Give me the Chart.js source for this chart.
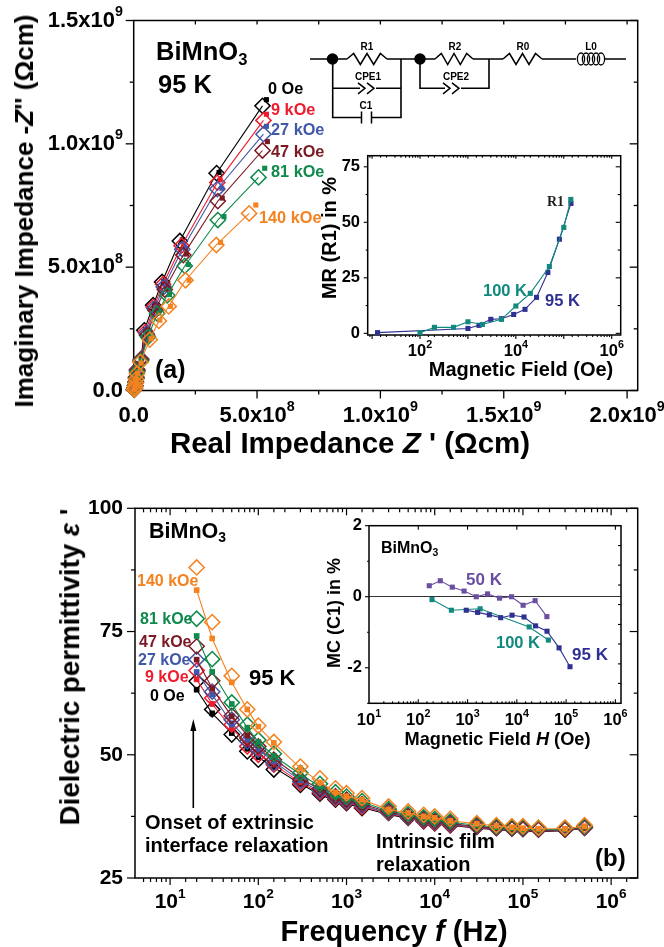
<!DOCTYPE html>
<html>
<head>
<meta charset="utf-8">
<script src="https://cdn.jsdelivr.net/npm/chart.js@4"></script>
<style>
html,body{margin:0;padding:0;background:#fff;width:664px;height:947px;overflow:hidden}
canvas{position:absolute}
.t{position:absolute;font-family:"Liberation Sans",Arial,sans-serif;font-weight:bold;white-space:nowrap;line-height:1;transform:translateY(-50%);color:#000}
.r{transform:translate(-50%,-50%) rotate(-90deg)}
.c{transform:translate(-50%,-50%)}
.sub{font-size:.65em;position:relative;top:.28em}
svg{position:absolute;left:0;top:0}
</style>
</head>
<body>
<script>
// ---------- Panel (a): Cole-Cole, values in units of 1e8 Ohm cm ----------
const fieldNames = ['0 Oe','9 kOe','27 kOe','47 kOe','81 kOe','140 kOe'];
const fieldColors = ['#000000','#ee1c2e','#4058a8','#7b1a24','#0f8a4c','#f58220'];
const zRe0  = [5.22,3.36,1.87,1.15,.79,.43,.30,.14,.10,.08,.06,.04,.02];
const zIm0  = [11.54,8.81,6.06,4.40,3.46,2.44,1.28,.85,.55,.35,.20,.10,.04];
const zRe9  = [5.26,3.39,1.94,1.19,.81,.48,.30,.14,.10,.08,.06,.04,.02];
const zIm9  = [10.95,8.43,5.87,4.31,3.39,2.37,1.26,.83,.54,.34,.20,.10,.04];
const zRe27 = [5.26,3.39,1.97,1.22,.84,.52,.29,.14,.10,.08,.06,.04,.02];
const zIm27 = [10.39,8.17,5.73,4.20,3.32,2.31,1.24,.81,.52,.33,.19,.10,.04];
const zRe47 = [5.22,3.41,2.01,1.26,.88,.54,.29,.14,.10,.08,.06,.04,.02];
const zIm47 = [9.73,7.68,5.49,4.09,3.25,2.24,1.22,.79,.51,.33,.19,.09,.04];
const zRe81 = [5.06,3.41,2.07,1.36,.95,.58,.28,.14,.10,.08,.06,.04,.02];
const zIm81 = [8.64,6.91,5.05,3.86,3.12,2.17,1.19,.75,.49,.31,.18,.09,.04];
const zRe140= [4.68,3.35,2.10,1.42,1.02,.65,.27,.14,.10,.08,.06,.04,.02];
const zIm140= [7.18,5.90,4.47,3.41,2.82,2.06,1.15,.68,.45,.30,.17,.09,.04];
const fitRe0  = [5.38,3.46,1.97,1.22,.84,.48,.32,.16,.12,.09,.07,.04,.02];
const fitIm0  = [11.79,8.84,6.10,4.43,3.50,2.47,1.30,.87,.56,.36,.21,.11,.05];
const fitRe9  = [5.38,3.50,2.03,1.26,.88,.52,.32,.16,.12,.09,.07,.04,.02];
const fitIm9  = [11.20,8.54,5.90,4.34,3.42,2.40,1.28,.85,.55,.35,.20,.10,.05];
const fitRe27 = [5.38,3.57,2.10,1.29,.91,.54,.31,.16,.12,.09,.07,.04,.02];
const fitIm27 = [10.71,8.20,5.76,4.23,3.35,2.33,1.26,.82,.53,.34,.20,.10,.05];
const fitRe47 = [5.42,3.59,2.14,1.33,.95,.57,.31,.16,.12,.09,.07,.04,.02];
const fitIm47 = [10.09,7.80,5.53,4.11,3.28,2.28,1.24,.80,.52,.33,.19,.10,.04];
const fitRe81 = [5.31,3.66,2.21,1.45,1.02,.64,.30,.16,.12,.09,.06,.04,.02];
const fitIm81 = [9.01,7.05,5.11,3.89,3.14,2.20,1.21,.77,.50,.32,.18,.09,.04];
const fitRe140= [4.95,3.52,2.24,1.49,1.06,.71,.30,.16,.12,.09,.06,.04,.02];
const fitIm140= [7.52,6.00,4.47,3.41,2.85,2.10,1.11,.70,.46,.30,.17,.09,.04];
const impedanceTicks = {0:'0.0',5:'5.0x10⁸',10:'1.0x10⁹',15:'1.5x10⁹',20:'2.0x10⁹'};

// ---------- Panel (a) inset: MR(R1) ----------
const mr95H = [13,1000,1700,3000,5000,9000,15500,27000,46500,81000,141000];
const mr95  = [0.3,2.2,3.6,6.3,6.6,8.5,10.8,16.2,27.4,42.4,58.5];
const mr100H= [100,200,500,1000,2000,5000,10000,20000,50000,100000,140000];
const mr100 = [0.3,2.7,2.7,5.2,4.0,6.3,12.3,18.0,30.1,47.7,60.3];
const mrTicks = [0,25,50,75];

// ---------- Panel (b): permittivity vs frequency ----------
const freq = [20,30,50,75,100,150,300,500,750,1000,1500,3000,5000,7500,1e4,1.5e4,3e4,5e4,7.5e4,1e5,1.5e5,3e5,5e5];
const eps0  = [64.9,59.2,54.1,50.7,49.0,47.0,43.9,42.1,40.9,40.2,39.2,38.2,37.2,36.5,36.1,35.7,35.4,35.1,35.0,34.9,34.8,34.8,35.2];
const eps9  = [67.1,61.5,56.1,51.7,50.0,48.0,44.2,42.4,41.1,40.4,39.4,38.3,37.3,36.6,36.2,35.8,35.5,35.2,35.1,35.0,34.9,34.9,35.2];
const eps27 = [69.3,62.8,57.1,52.7,51.0,48.3,44.6,42.7,41.3,40.6,39.7,38.4,37.4,36.8,36.4,36.0,35.6,35.3,35.2,35.1,35.0,35.0,35.3];
const eps47 = [72.0,65.0,57.9,53.4,51.7,49.0,45.0,43.1,41.6,40.9,40.0,38.6,37.6,37.0,36.6,36.2,35.7,35.4,35.2,35.2,35.0,35.0,35.4];
const eps81 = [77.6,69.4,60.6,56.1,53.0,50.2,46.3,44.1,42.4,41.5,40.6,39.0,38.0,37.3,37.0,36.5,35.9,35.5,35.3,35.3,35.1,35.1,35.5];
const eps140= [88.0,76.9,66.0,59.2,55.9,52.6,47.6,45.2,43.2,42.2,41.2,39.5,38.5,37.8,37.5,37.0,36.1,35.7,35.5,35.5,35.2,35.2,35.7];
const fit0  = [63.2,58.4,54.4,51.2,49.5,47.4,44.1,41.9,40.6,40.0,39.3,37.9,37.1,36.5,36.1,35.7,35.1,34.8,34.6,34.5,34.4,34.6,35.1];
const fit9  = [65.3,60.3,55.4,52.2,50.2,48.0,44.4,42.2,40.8,40.2,39.5,38.1,37.2,36.6,36.2,35.8,35.2,34.9,34.7,34.6,34.5,34.7,35.2];
const fit27 = [66.8,62.2,56.4,53.0,51.0,48.6,44.8,42.5,41.0,40.4,39.7,38.2,37.4,36.7,36.3,35.9,35.3,35.0,34.8,34.7,34.6,34.7,35.2];
const fit47 = [69.3,63.5,57.8,53.9,51.9,49.2,45.3,42.9,41.2,40.7,40.0,38.4,37.6,36.9,36.5,36.1,35.4,35.1,34.9,34.8,34.7,34.8,35.3];
const fit81 = [74.1,66.8,60.3,55.5,52.6,49.8,46.0,43.6,41.8,41.1,40.4,38.6,37.9,37.2,36.8,36.3,35.7,35.3,35.1,34.9,34.8,34.9,35.4];
const fit140= [83.4,73.6,64.7,59.2,55.7,52.4,47.3,44.4,42.4,41.6,40.9,38.9,38.2,37.5,37.2,36.6,36.0,35.6,35.3,35.1,35.0,35.0,35.5];
const epsTicks = [25,50,75,100];
const decadeLabels = {1:'10¹',2:'10²',3:'10³',4:'10⁴',5:'10⁵',6:'10⁶'};
const mrDecadeLabels = {2:'10²',4:'10⁴',6:'10⁶'};

// ---------- Panel (b) inset: MC(C1) ----------
const mc50H = [167,280,490,850,1500,2550,4450,7800,13400,23500,40700];
const mc50  = [.31,.45,.27,.16,0,.08,-.04,0,-.24,-.11,-.56];
const mc100H= [190,470,1800,17800,43700];
const mc100 = [-.08,-.38,-.34,-.85,-1.22];
const mc95H = [940,1600,2760,4700,8000,14000,24000,41000,72000,120000];
const mc95  = [-.38,-.44,-.51,-.59,-.52,-.57,-.82,-.97,-1.44,-1.97];
const mcTicks = [-2,0,2];
const mcRightTicks = [1.44,.89,.33,-.22,-.78,-1.33,-1.89,-2.44];

const navy='#2e3192', teal='#11897f', purple='#6a4ea1';
const FONT='"Liberation Sans",Arial,sans-serif';
const SUP={'¹':'1','²':'2','³':'3','⁴':'4','⁵':'5','⁶':'6','⁷':'7','⁸':'8','⁹':'9'};

const frameTicks = {
  id:'frameTicks',
  beforeDatasetsDraw(chart,args,o){
    const {ctx,chartArea:a,scales:{x,y}} = chart;
    ctx.save();
    ctx.strokeStyle='#000'; ctx.lineWidth=o.width||1.2;
    const seg=(x1,y1,x2,y2)=>{ctx.beginPath();ctx.moveTo(x1,y1);ctx.lineTo(x2,y2);ctx.stroke();};
    const isMaj=t=>t.major||(t.label!==''&&t.label!==undefined);
    const len=(spec,t)=>isMaj(t)?spec[0]:spec[1];
    x.ticks.forEach(t=>{
      const p=x.getPixelForValue(t.value);
      if(p<a.left+1||p>a.right-1) return;
      seg(p,a.bottom,p,a.bottom+len(o.bottom,t));
      const l=len(o.top,t); if(l) seg(p,a.top,p,a.top+l);
    });
    y.ticks.forEach(t=>{
      const p=y.getPixelForValue(t.value);
      if(p<a.top-.5||p>a.bottom+.5) return;
      seg(a.left,p,a.left-len(o.left,t),p);
      if(!o.rightValues){const l=len(o.right,t); seg(a.right,p,a.right-l,p);}
    });
    if(o.rightValues) o.rightValues.forEach(v=>{const p=y.getPixelForValue(v);seg(a.right,p,a.right-o.right[1],p);});
    ctx.lineWidth=o.frame||1.5;
    ctx.strokeRect(a.left,a.top,a.right-a.left,a.bottom-a.top);
    // tick labels with raised exponents, placed through the scales
    const fs=o.font, main=`bold ${fs}px ${FONT}`, sup=`bold ${fs*.65}px ${FONT}`;
    ctx.fillStyle='#000'; ctx.textBaseline='middle'; ctx.textAlign='left';
    const put=(label,px,py,align)=>{
      if(!label) return;
      const last=label[label.length-1], ex=SUP[last], base=ex?label.slice(0,-1):label;
      ctx.font=main; const w1=ctx.measureText(base).width;
      ctx.font=sup; const w2=ex?ctx.measureText(ex).width:0;
      const left=align==='right'?px-w1-w2:px-(w1+w2)/2;
      ctx.font=main; ctx.fillText(base,left,py);
      if(ex){ctx.font=sup;ctx.fillText(ex,left+w1,py-fs*.38);}
    };
    x.ticks.forEach(t=>put(t.label,x.getPixelForValue(t.value),a.bottom+o.xOff,'center'));
    y.ticks.forEach(t=>put(t.label,a.left-o.yPad,y.getPixelForValue(t.value),'right'));
    ctx.restore();
  }
};

function addChart(box,plot,xScale,yScale,datasets,ticksOpt){
  const cv=document.createElement('canvas');
  cv.width=box.w; cv.height=box.h;
  cv.style.left=box.x+'px'; cv.style.top=box.y+'px';
  cv.style.width=box.w+'px'; cv.style.height=box.h+'px';
  document.body.appendChild(cv);
  const L=plot.l-box.x, T=plot.t-box.y, R=box.x+box.w-plot.r, B=box.y+box.h-plot.b;
  xScale.afterFit=s=>{s.height=B;};
  yScale.afterFit=s=>{s.width=L;};
  return new Chart(cv,{
    type:'scatter',
    data:{datasets},
    options:{
      responsive:false,animation:false,devicePixelRatio:1,
      layout:{autoPadding:false,padding:{left:0,top:T,right:R,bottom:0}},
      plugins:{legend:{display:false},tooltip:{enabled:false},title:{display:false},frameTicks:ticksOpt},
      scales:{x:xScale,y:yScale}
    },
    plugins:[frameTicks]
  });
}
const pairs=(xs,ys)=>xs.map((v,i)=>({x:v,y:ys[i]}));
const HIDDEN='rgba(0,0,0,0)';
function axis(o){
  return Object.assign({border:{display:false},grid:{display:false,drawTicks:false}},o);
}
function logTicks(labels){
  return {autoSkip:false,maxRotation:0,minRotation:0,color:HIDDEN,
    callback(v){const e=Math.round(Math.log10(v)*1e6)/1e6;return Number.isInteger(e)&&labels[e]?labels[e]:'';}};
}
function linTicks(step,fn){
  return {stepSize:step,includeBounds:false,autoSkip:false,maxRotation:0,minRotation:0,color:HIDDEN,callback:fn};
}
function diamondDs(data,color,order,line){
  return {data,order,clip:false,showLine:line,borderColor:color,borderWidth:1.1,
    pointStyle:'rectRot',pointRadius:7.6,pointBorderWidth:1.5,pointBorderColor:color,pointBackgroundColor:HIDDEN};
}
function squareDs(data,color,order,line,r){
  return {data,order,clip:false,showLine:line,borderColor:color,borderWidth:1.1,
    pointStyle:'rect',pointRadius:r||3.6,pointBorderWidth:0,pointBackgroundColor:color,pointBorderColor:color};
}

// Panel (a)
const aRe=[zRe0,zRe9,zRe27,zRe47,zRe81,zRe140], aIm=[zIm0,zIm9,zIm27,zIm47,zIm81,zIm140];
const aFR=[fitRe0,fitRe9,fitRe27,fitRe47,fitRe81,fitRe140], aFI=[fitIm0,fitIm9,fitIm27,fitIm47,fitIm81,fitIm140];
const dsA=[];
fieldColors.forEach((c,i)=>{
  dsA.push(diamondDs(pairs(aRe[i],aIm[i]),c,40-2*i,true));
  dsA.push(squareDs(pairs(aFR[i],aFI[i]),c,39-2*i,false));
});
addChart({x:0,y:0,w:664,h:440},{l:133.7,t:20.5,r:637.7,b:390.5},
  axis({type:'linear',min:0,max:20.43,ticks:linTicks(2.5,v=>impedanceTicks[v]||'')}),
  axis({type:'linear',min:0,max:15,ticks:linTicks(2.5,v=>impedanceTicks[v]||'')}),
  dsA,{bottom:[8,4],top:[4,4],left:[8,4],right:[8,4],frame:1.5,width:1.3,font:22,xOff:25,yPad:10.7});

// Panel (a) inset
addChart({x:300,y:140,w:340,h:240},{l:367.7,t:155.7,r:620.7,b:335},
  axis({type:'logarithmic',min:8.1,max:1.54e6,ticks:logTicks(mrDecadeLabels)}),
  axis({type:'linear',min:-.75,max:80,ticks:linTicks(12.5,v=>mrTicks.includes(v)?String(v):'')}),
  [squareDs(pairs(mr95H,mr95),navy,2,true),squareDs(pairs(mr100H,mr100),teal,1,true)],
  {bottom:[4,2],top:[3,2],left:[4,2],right:[5,3],frame:1.5,width:1.1,font:16.5,xOff:16,yPad:7.7});

// Panel (b)
const bD=[eps0,eps9,eps27,eps47,eps81,eps140], bF=[fit0,fit9,fit27,fit47,fit81,fit140];
const dsB=[];
fieldColors.forEach((c,i)=>{
  dsB.push(diamondDs(pairs(freq,bD[i]),c,40-2*i,false));
  dsB.push(squareDs(pairs(freq,bF[i]),c,39-2*i,true,4));
});
addChart({x:0,y:490,w:664,h:430},{l:135,t:508.3,r:637.7,b:878},
  axis({type:'logarithmic',min:4,max:2e6,ticks:logTicks(decadeLabels)}),
  axis({type:'linear',min:25,max:100,ticks:linTicks(12.5,v=>epsTicks.includes(v)?String(v):'')}),
  dsB,{bottom:[7,4],top:[7,4],left:[8,4],right:[8,4],frame:1.5,width:1.2,font:21,xOff:24,yPad:12});

// Panel (b) inset
addChart({x:300,y:515,w:340,h:240},{l:369,t:525.7,r:621,b:703.3},
  axis({type:'logarithmic',min:10,max:1.3e6,ticks:logTicks(decadeLabels)}),
  axis({type:'linear',min:-3,max:2,grid:{display:true,drawTicks:false,lineWidth:1,color:c=>c.tick&&c.tick.value===0?'#333':HIDDEN},
    ticks:linTicks(1,v=>mcTicks.includes(v)?String(v):'')}),
  [squareDs(pairs(mc50H,mc50),purple,3,true),squareDs(pairs(mc100H,mc100),teal,2,true),squareDs(pairs(mc95H,mc95),navy,1,true)],
  {bottom:[-4,-2],top:[4,0],left:[4,2],right:[3,3],rightValues:mcRightTicks,frame:1.5,width:1.1,font:16.5,xOff:16.7,yPad:7});

// ---------- Text ----------
const texts=[
 // panel a
 {h:'BiMnO<span class="sub">3</span>',x:156,y:52,s:25.5},
 {h:'95 K',x:158,y:85,s:25.5},
 {h:'(a)',x:155,y:369,s:25},
 {h:'Imaginary Impedance -<i>Z</i>\'\' (Ωcm)',x:24,y:211,s:26,rot:1},
 {h:'Real Impedance <i>Z</i> \' (Ωcm)',x:350,y:443,s:29.5,ctr:1},
 {h:fieldNames[0],x:268,y:88,s:16.3,c:fieldColors[0]},
 {h:fieldNames[1],x:271,y:109,s:16.3,c:fieldColors[1]},
 {h:fieldNames[2],x:271,y:129,s:16.3,c:fieldColors[2]},
 {h:fieldNames[3],x:271,y:151,s:16.3,c:fieldColors[3]},
 {h:fieldNames[4],x:271,y:171,s:16.3,c:fieldColors[4]},
 {h:fieldNames[5],x:259,y:217,s:16.3,c:fieldColors[5]},
 // inset a
 {h:'MR (R1) in %',x:329,y:238,s:20,rot:1},
 {h:'Magnetic Field (Oe)',x:521,y:369,s:20,ctr:1},
 {h:'R1',x:547,y:202,s:14,c:'#222',f:'"Liberation Serif",serif'},
 {h:'100 K',x:483,y:290,s:16.5,c:teal},
 {h:'95 K',x:545,y:300,s:16.5,c:navy},
 // panel b
 {h:'BiMnO<span class="sub">3</span>',x:149,y:532,s:21.5},
 {h:'95 K',x:249,y:678,s:22},
 {h:'(b)',x:595,y:858,s:24},
 {h:'Dielectric permittivity <i>ε</i> \'',x:70,y:667,s:27.7,rot:1},
 {h:'Frequency <i>f</i> (Hz)',x:394,y:931,s:29,ctr:1},
 {h:fieldNames[5],x:137,y:581,s:16,c:fieldColors[5]},
 {h:fieldNames[4],x:140,y:619,s:16,c:fieldColors[4]},
 {h:fieldNames[3],x:139,y:642,s:16,c:fieldColors[3]},
 {h:fieldNames[2],x:138,y:660,s:16,c:fieldColors[2]},
 {h:fieldNames[1],x:145,y:677,s:16,c:fieldColors[1]},
 {h:fieldNames[0],x:150,y:696,s:16,c:fieldColors[0]},
 {h:'Onset of extrinsic',x:145,y:822,s:20},
 {h:'interface relaxation',x:145,y:845,s:20},
 {h:'Intrinsic film',x:376,y:841,s:20},
 {h:'relaxation',x:376,y:864,s:20},
 // inset b
 {h:'BiMnO<span class="sub">3</span>',x:381,y:548,s:16},
 {h:'50 K',x:466,y:579,s:17,c:purple},
 {h:'100 K',x:496,y:642,s:16.5,c:teal},
 {h:'95 K',x:572,y:654,s:17,c:navy},
 {h:'MC (C1) in %',x:334,y:613,s:18,rot:1},
 {h:'Magnetic Field <i>H</i> (Oe)',x:497.5,y:739,s:18.2,ctr:1},
 // circuit labels
 {h:'R1',x:367,y:46.5,s:10,ctr:1},{h:'CPE1',x:368,y:76.5,s:10,ctr:1},{h:'C1',x:366,y:105.5,s:10,ctr:1},
 {h:'R2',x:455,y:46.5,s:10,ctr:1},{h:'CPE2',x:456,y:76.5,s:10,ctr:1},{h:'R0',x:523,y:46.5,s:10,ctr:1},{h:'L0',x:591,y:46.5,s:10,ctr:1},
];
texts.forEach(t=>{
  const d=document.createElement('div');
  d.className='t'+(t.rot?' r':'')+(t.ctr?' c':'');
  d.innerHTML=t.h;
  d.style.left=t.x+'px'; d.style.top=t.y+'px'; d.style.fontSize=t.s+'px';
  if(t.c) d.style.color=t.c;
  if(t.f) d.style.fontFamily=t.f;
  document.body.appendChild(d);
});

// ---------- Equivalent circuit and arrow ----------
function zig(x0,x1,y){let s=`M${x0} ${y}`;const n=6,st=(x1-x0)/n;for(let i=1;i<n;i++){s+=` L${x0+st*i} ${y+(i%2?-5.5:5.5)}`;}return s+` L${x1} ${y}`;}
function cpe(x,y){return `M${x} ${y-5.5} L${x+7} ${y} L${x} ${y+5.5} M${x+9} ${y-5.5} L${x+16} ${y} L${x+9} ${y+5.5}`;}
let coil='';[581,586,591,596,601].forEach(cx=>{coil+=`<ellipse cx="${cx}" cy="59" rx="3.6" ry="6"/>`;});
document.body.insertAdjacentHTML('beforeend',`
<svg width="664" height="947" fill="none" stroke="#000" stroke-width="1.5">
 <path d="M310 59 H347 M387 59 H435 M473 59 H503 M542 59 H576 M605 59 H626"/>
 <path d="${zig(347,387,59)}"/><path d="${zig(435,473,59)}"/><path d="${zig(503,542,59)}"/>
 <circle cx="332.5" cy="59" r="5" fill="#000"/><circle cx="420" cy="59" r="5" fill="#000"/>
 <path d="M332.7 59 V117.5 H361.5 M371.5 117.5 H401 V59 M332.7 88.3 H360 M376 88.3 H401" stroke-width="1.6"/>
 <path d="M361.5 111.5 V123.5 M371.5 111.5 V123.5"/>
 <path d="${cpe(358,88.3)}"/>
 <path d="M420 59 V88.3 H445 M461 88.3 H489 V59" stroke-width="1.6"/>
 <path d="${cpe(443,88.3)}"/>
 <g stroke-width="1.3">${coil}</g>
 <path d="M193.3 808 V726" stroke-width="1.6"/>
 <path d="M193.3 719 L196.3 731 L190.3 731 Z" fill="#000" stroke="none"/>
</svg>`);
</script>
</body>
</html>
